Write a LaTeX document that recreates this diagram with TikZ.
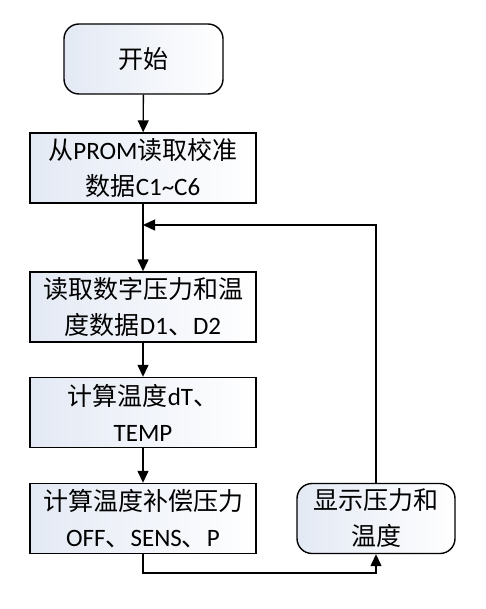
\documentclass[tikz,border=0pt]{standalone}
\usepackage{fontspec}
\setmainfont{Carlito}
\newfontfamily\cjk{Noto Sans CJK SC}
\usetikzlibrary{arrows.meta}
\newcommand{\zh}[1]{{\cjk #1}}

\definecolor{boxtint}{HTML}{E3E9F4}

\begin{document}
\begin{tikzpicture}[x=1pt,y=-1pt,
  base/.style={draw=black, line width=1.4pt, align=center, inner sep=0pt,
    left color=boxtint, right color=white,
    font=\fontsize{25}{36}\selectfont},
  procbox/.style={base, minimum width=226pt, minimum height=70pt},
  termbox/.style={base, rounded corners=15pt, minimum height=70pt},
  link/.style={line width=1.4pt, -{Triangle[length=12pt,width=11pt]}}
]
\useasboundingbox (0,0) rectangle (485,609);

% nodes
\node[termbox, minimum width=159pt] (start) at (143.5,59) {\zh{开始}};
\node[procbox] (calib) at (143,168) {\zh{从}PROM\zh{读取校准}\\\zh{数据}C1\textasciitilde C6};
\node[procbox] (readd) at (143,307) {\zh{读取数字压力和温}\\\zh{度数据}D1\zh{、}D2};
\node[procbox] (temp) at (143,412.5) {\zh{计算温度}dT\zh{、}\\TEMP};
\node[procbox] (comp) at (143,518.5) {\zh{计算温度补偿压力}\\OFF\zh{、}SENS\zh{、}P};
\node[termbox, minimum width=158pt] (show) at (376,518.5) {\zh{显示压力和}\\\zh{温度}};

% junction points of the loop
\coordinate (join) at (143,225);
\coordinate (down) at (143,573);

% connectors
\draw[link] (start) -- (calib);
\draw[link] (calib) -- (readd);
\draw[link] (readd) -- (temp);
\draw[link] (temp) -- (comp);
\draw[link] (comp.south) -- (down) -| (show.south);
\draw[link] (show.north) |- (join);
\end{tikzpicture}
\end{document}
